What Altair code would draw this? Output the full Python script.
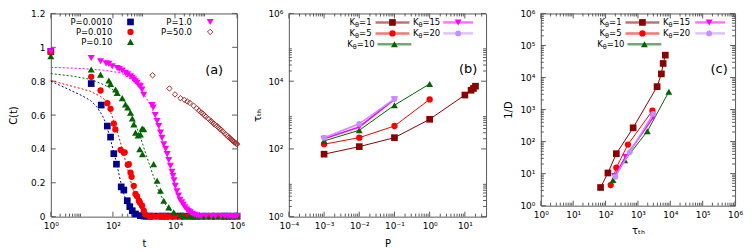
import altair as alt
import pandas as pd

FONT = "DejaVu Sans"
AXC = "#5a5a5a"
BLUE, RED, GREEN, MAG, BROWN = "#00008f", "#ff0000", "#006400", "#ff00ff", "#a52a2a"
DRED, LAV = "#8b0000", "#c38fff"

# ---------------- panel (a) data ----------------
A_LEGEND = ["P=0.0010", "P=0.010", "P=0.10", "P=1.0", "P=50.0"]

A1_T = [1, 20, 42, 66, 84, 107, 130, 185, 225, 290, 350, 420, 535, 770, 1000,
        1200, 1500, 2000, 3000, 4000, 5000, 7000, 10000, 15000, 20000, 30000, 40000, 50000,
        70000, 100000, 150000, 200000, 300000, 400000, 500000, 700000, 1000000]
A1_C = [0.976, 0.786, 0.659, 0.535, 0.47, 0.372, 0.31, 0.176, 0.157, 0.094, 0.059, 0.035, 0.016, 0.006, 0.003,
        0.003, 0.003, 0.003, 0.003, 0.003, 0.003, 0.003, 0.003, 0.003, 0.003, 0.003, 0.003, 0.003,
        0.003, 0.003, 0.003, 0.003, 0.003, 0.003, 0.003, 0.003, 0.003]

A2_T = [1, 20, 40, 66, 84, 107, 120, 177, 225, 240, 302, 325, 370, 400, 470, 535, 600, 690, 740, 870, 985, 1100,
        1500, 2000, 3000, 4000, 5000, 7000, 10000, 15000, 20000, 30000, 40000, 50000,
        70000, 100000, 150000, 200000, 300000, 400000, 500000, 700000, 1000000]
A2_C = [0.97, 0.826, 0.745, 0.67, 0.637, 0.549, 0.515, 0.394, 0.378, 0.38, 0.306, 0.31, 0.26, 0.235, 0.182, 0.134,
        0.12, 0.094, 0.084, 0.065, 0.035, 0.012,
        0.003, 0.003, 0.003, 0.003, 0.003, 0.003, 0.003, 0.003, 0.003, 0.003, 0.003, 0.003,
        0.003, 0.003, 0.003, 0.003, 0.003, 0.003, 0.003, 0.003, 0.003]

A3_T = [1, 20, 40, 74, 84, 122, 137, 200, 254, 300, 370, 420, 470, 535, 650, 770, 870, 985, 730, 900,
        2050, 2650, 3400, 4350, 6300, 9100, 14800,
        20000, 30000, 40000, 50000, 70000, 100000, 150000, 200000, 300000, 400000, 500000, 700000, 1000000]
A3_C = [0.947, 0.869, 0.839, 0.804, 0.784, 0.751, 0.731, 0.70, 0.663, 0.645, 0.614, 0.58, 0.545, 0.496, 0.48,
        0.486, 0.52, 0.516, 0.398, 0.369,
        0.31, 0.212, 0.153, 0.094, 0.055, 0.025, 0.01,
        0.003, 0.003, 0.003, 0.003, 0.003, 0.003, 0.003, 0.003, 0.003, 0.003, 0.003, 0.003, 0.003]

A4_T = [1, 20, 40, 60, 74, 95, 137, 160, 200, 254, 300, 370, 420, 470, 530, 600, 700, 770, 870, 985,
        1820, 2000, 2300, 2650, 3000, 3400, 3800, 4350, 5000, 5600, 6300, 7100, 8000, 8600, 9300,
        10200, 11500, 13000, 14500, 16500, 18500, 21000, 24000, 27000, 31000, 36000, 42000, 50000, 60000,
        70000, 100000, 150000, 200000, 300000, 400000, 500000, 600000, 700000, 800000, 900000, 1000000]
A4_C = [0.976, 0.937, 0.918, 0.905, 0.902, 0.888, 0.878, 0.872, 0.863, 0.849, 0.84, 0.829, 0.82, 0.81, 0.80,
        0.79, 0.775, 0.77, 0.75, 0.72,
        0.659, 0.645, 0.60, 0.565, 0.535, 0.496, 0.465, 0.428, 0.40, 0.369, 0.335, 0.30, 0.265, 0.241, 0.215,
        0.182, 0.15, 0.124, 0.10, 0.084, 0.07, 0.055, 0.042, 0.033, 0.025, 0.017, 0.011, 0.006, 0.004,
        0.003, 0.003, 0.003, 0.003, 0.003, 0.003, 0.003, 0.003, 0.003, 0.003, 0.003, 0.003]

A5_T = [1900, 6600, 10000, 15000, 20000, 25000, 30000, 40000, 50000, 60000, 70000, 80000, 90000, 100000,
        120000, 140000, 160000, 180000, 200000, 225000, 250000, 275000, 300000, 350000, 400000, 450000,
        500000, 550000, 600000, 650000, 700000, 750000, 800000, 850000, 900000, 950000, 1000000]
A5_C = [0.835, 0.757, 0.722, 0.70, 0.69, 0.68, 0.672, 0.655, 0.64, 0.626, 0.615, 0.607, 0.598, 0.59,
        0.578, 0.566, 0.558, 0.548, 0.541, 0.535, 0.527, 0.52, 0.513, 0.503, 0.492, 0.483,
        0.475, 0.468, 0.462, 0.457, 0.451, 0.446, 0.442, 0.438, 0.435, 0.431, 0.428]

# dashed fit curves
F1_T = [1, 3, 10, 19, 30, 45, 60, 80, 100, 130, 170, 220, 300, 400, 550, 800]
F1_C = [0.80, 0.76, 0.715, 0.686, 0.65, 0.60, 0.55, 0.47, 0.40, 0.32, 0.22, 0.14, 0.07, 0.03, 0.01, 0.0]
F2_T = [1, 3, 10, 19, 40, 58, 80, 100, 150, 200, 300, 400, 500, 700, 1000, 1500]
F2_C = [0.805, 0.78, 0.755, 0.74, 0.71, 0.686, 0.63, 0.58, 0.48, 0.40, 0.28, 0.19, 0.13, 0.06, 0.02, 0.0]
F3_T = [1, 5, 20, 50, 100, 200, 300, 500, 800, 1200, 2000, 3000, 5000, 8000, 12000]
F3_C = [0.845, 0.83, 0.81, 0.78, 0.75, 0.70, 0.65, 0.56, 0.46, 0.36, 0.24, 0.15, 0.07, 0.025, 0.005]
F4_T = [1, 10, 50, 177, 400, 800, 1500, 2500, 4000, 6000, 9000, 13000, 20000, 30000, 50000]
F4_C = [0.882, 0.875, 0.865, 0.849, 0.81, 0.75, 0.67, 0.58, 0.45, 0.34, 0.22, 0.12, 0.05, 0.015, 0.0]

# ---------------- panel (b)/(c) data ----------------
K_LEGEND = ["1", "5", "10", "15", "20"]
B_P = [[1e-3, 1e-2, 1e-1, 1, 10, 15, 17.5, 20],
       [1e-3, 1e-2, 1e-1, 1],
       [1e-3, 1e-2, 1e-1, 1],
       [1e-3, 1e-2, 1e-1],
       [1e-3, 1e-2, 1e-1]]
B_TAU = [[70, 117, 215, 750, 3900, 5400, 6100, 7100],
         [138, 215, 475, 2900],
         [172, 355, 1960, 8300],
         [200, 445, 2900],
         [215, 550, 3000]]
C_TAU = [[70, 118, 215, 710, 3900, 5300, 6000, 7000],
         [144, 215, 490, 2800],
         [170, 390, 1950, 9000],
         [190, 420, 2950],
         [200, 560, 2950]]
C_INVD = [[3.7, 10.5, 42, 270, 5200, 13000, 27500, 50000],
          [4.4, 15.5, 81, 920],
          [6.3, 26, 210, 3600],
          [8.5, 33, 570],
          [8.0, 47, 730]]

K_COLORS = [DRED, RED, GREEN, MAG, LAV]
K_SHAPES = ["square", "circle", "triangle-up", "triangle-down", "circle"]
K_SIZES = [45, 40, 48, 48, 34]
K_WIDTHS = [1, 1, 1, 1.6, 1.6]

# ---------------- geometry ----------------
A_X0, A_Y0, A_W, A_H = 50, 12, 187, 204
B_X0, B_W, B_H = 289, 198, 204
C_X0, C_W, C_H = 542, 195, 193
MAJ, MIN = 5, 3
TICKFS, LEGFS, TITFS = 9, 8.5, 10

SUPEXP = "abs(round(log(datum.value)/LN10))"
SUP = ("'10' + (round(log(datum.value)/LN10) < 0 ? '⁻' : '') + "
       "substring('⁰¹²³⁴⁵⁶⁷⁸⁹', " + SUPEXP + ", " + SUPEXP + " + 1)")

WID = {'=': 0.838, 'K': 0.656, 'θ': 0.602, '.': 0.318, 'P': 0.603}


def tw(s, size):
    return sum(WID.get(ch, 0.636) for ch in s) * size


def dummy():
    return pd.DataFrame({'k': [0]})


def txt(label, x, y, size=LEGFS, align='right'):
    return alt.Chart(dummy()).mark_text(align=align, baseline='middle', font=FONT, fontSize=size,
                                        color='black').encode(
        x=alt.value(x), y=alt.value(y), text=alt.value(label))


def sym(x, y, shape, color, size, filled=True):
    return alt.Chart(dummy()).mark_point(shape=shape, filled=filled, size=size, color=color, opacity=1,
                                         strokeWidth=1).encode(x=alt.value(x), y=alt.value(y))


def seg(x1, x2, y, color):
    return alt.Chart(dummy()).mark_rule(color=color, strokeWidth=2.5, opacity=0.55).encode(
        x=alt.value(x1), x2=alt.value(x2), y=alt.value(y))


def tick_layers(X, Y, W, H, xmaj, xmin, ymaj, ymin):
    out = []
    for vals, L in ((xmaj, MAJ), (xmin, MIN)):
        df = pd.DataFrame({'v': vals})
        out.append(alt.Chart(df).mark_rule(color=AXC, strokeWidth=1).encode(
            x=X('v'), y=alt.value(H), y2=alt.value(H - L)))
        out.append(alt.Chart(df).mark_rule(color=AXC, strokeWidth=1).encode(
            x=X('v'), y=alt.value(0), y2=alt.value(L)))
    for vals, L in ((ymaj, MAJ), (ymin, MIN)):
        if not vals:
            continue
        df = pd.DataFrame({'v': vals})
        out.append(alt.Chart(df).mark_rule(color=AXC, strokeWidth=1).encode(
            y=Y('v'), x=alt.value(0), x2=alt.value(L)))
        out.append(alt.Chart(df).mark_rule(color=AXC, strokeWidth=1).encode(
            y=Y('v'), x=alt.value(W), x2=alt.value(W - L)))
    return out


def logminor(lo_exp, hi_exp, lo, hi, mults=range(2, 10)):
    vals = []
    for e in range(lo_exp, hi_exp + 1):
        for m in mults:
            v = m * 10.0 ** e
            if lo < v < hi:
                vals.append(v)
    return vals


# ---------------- panel (a) ----------------
xs_a = alt.Scale(type='log', domain=[1, 1e6], nice=False)
ys_a = alt.Scale(domain=[0, 1.2], nice=False, zero=False)
xax_a = alt.Axis(values=[1, 100, 1e4, 1e6], labelExpr=SUP, title='t', labelFlush=False,
                 labelPadding=5, titlePadding=8)
yax_a = alt.Axis(values=[0, 0.2, 0.4, 0.6, 0.8, 1.0, 1.2], format='~g', title='C(t)',
                 labelPadding=6, titlePadding=12)
XA = lambda f: alt.X(f, type='quantitative', scale=xs_a, axis=xax_a)
YA = lambda f: alt.Y(f, type='quantitative', scale=ys_a, axis=yax_a)

a_minor = [m * 10.0 ** e for e in (0, 2, 4) for m in range(1, 10)][1:]
a_minor = [v for v in a_minor if v not in (100, 1e4)]
a_layers = tick_layers(XA, YA, A_W, A_H, [1, 100, 1e4, 1e6], a_minor,
                       [0, 0.2, 0.4, 0.6, 0.8, 1.0, 1.2], [])

for ft, fc, col in ((F1_T, F1_C, BLUE), (F2_T, F2_C, RED), (F3_T, F3_C, GREEN), (F4_T, F4_C, MAG)):
    a_layers.append(alt.Chart(pd.DataFrame({'t': ft, 'c': fc})).mark_line(
        color=col, strokeWidth=1, strokeDash=[2, 2]).encode(x=XA('t'), y=YA('c')))

A_SER = [(A1_T, A1_C, BLUE, 'square', 45, True),
         (A2_T, A2_C, RED, 'circle', 40, True),
         (A3_T, A3_C, GREEN, 'triangle-up', 50, True),
         (A4_T, A4_C, MAG, 'triangle-down', 50, True),
         (A5_T, A5_C, BROWN, 'diamond', 30, False)]
for t, c, col, shp, sz, fil in A_SER:
    a_layers.append(alt.Chart(pd.DataFrame({'t': t, 'c': c})).mark_point(
        shape=shp, filled=fil, size=sz, color=col, opacity=1, strokeWidth=1).encode(x=XA('t'), y=YA('c')))

a_leg_pos = [(61.7, 80, 8.5), (61.7, 80, 18.5), (61.7, 80, 28.5), (141.7, 160, 8.5), (141.7, 160, 18.5)]
for (xr, xm, y), lab, (_, _, col, shp, sz, fil) in zip(a_leg_pos, A_LEGEND, A_SER):
    a_layers.append(txt(lab, xr, y))
    a_layers.append(sym(xm, y, shp, col, sz, fil))
a_layers.append(txt('(a)', 214 - A_X0, 69 - A_Y0, 13, 'center'))
chart_a = alt.layer(*a_layers).properties(width=A_W, height=A_H)


# ---------------- panel (b) ----------------
def k_legend(x0, y0, rows):
    out = []
    for i, (xr, x1, x2, xm, y) in enumerate(rows):
        rest = '=' + K_LEGEND[i]
        wr = tw(rest, LEGFS)
        xr_l, x1_l, x2_l, xm_l, y_l = xr - x0, x1 - x0, x2 - x0, xm - x0, y - y0
        out.append(txt(rest, xr_l, y_l))
        out.append(txt('θ', xr_l - wr, y_l + 2.5, 6.5))
        out.append(txt('K', xr_l - wr - tw('θ', 6.5), y_l))
        out.append(seg(x1_l, x2_l, y_l, K_COLORS[i]))
        out.append(sym(xm_l, y_l, K_SHAPES[i], K_COLORS[i], K_SIZES[i]))
    return out


xs_b = alt.Scale(type='log', domain=[1e-4, 40], nice=False)
ys_b = alt.Scale(type='log', domain=[1, 1e6], nice=False)
xax_b = alt.Axis(values=[1e-4, 1e-3, 1e-2, 1e-1, 1, 10], labelExpr=SUP, title='P', labelFlush=False,
                 labelPadding=5, titlePadding=8)
yax_b = alt.Axis(values=[1, 100, 1e4, 1e6], labelExpr=SUP, title='τₜₕ', labelPadding=6, titlePadding=5)
XB = lambda f: alt.X(f, type='quantitative', scale=xs_b, axis=xax_b)
YB = lambda f: alt.Y(f, type='quantitative', scale=ys_b, axis=yax_b)

b_layers = tick_layers(XB, YB, B_W, B_H, [1e-4, 1e-3, 1e-2, 1e-1, 1, 10], logminor(-4, 1, 1e-4, 40),
                       [1, 100, 1e4, 1e6],
                       [v for v in [m * 10.0 ** e for e in (0, 2, 4) for m in range(1, 10)] if v not in (1, 100, 1e4)])
for i in range(5):
    df = pd.DataFrame({'p': B_P[i], 'tau': B_TAU[i]})
    b_layers.append(alt.Chart(df).mark_line(color=K_COLORS[i], strokeWidth=K_WIDTHS[i]).encode(
        x=XB('p'), y=YB('tau')))
    b_layers.append(alt.Chart(df).mark_point(shape=K_SHAPES[i], filled=True, size=K_SIZES[i],
                                             color=K_COLORS[i], opacity=1).encode(x=XB('p'), y=YB('tau')))
b_rows = [(372, 376, 410, 393, 21), (372, 376, 410, 393, 32), (375, 378, 412, 395, 43),
          (441, 444, 474, 459, 21), (441, 444, 474, 459, 32)]
b_layers += k_legend(B_X0, A_Y0, b_rows)
b_layers.append(txt('(b)', 469 - B_X0, 68 - A_Y0, 13, 'center'))
chart_b = alt.layer(*b_layers).properties(width=B_W, height=B_H)

# ---------------- panel (c) ----------------
xs_c = alt.Scale(type='log', domain=[1, 1e6], nice=False)
ys_c = alt.Scale(type='log', domain=[1, 1e6], nice=False)
dec = [1, 10, 100, 1e3, 1e4, 1e5, 1e6]
xax_c = alt.Axis(values=dec, labelExpr=SUP, title='τₜₕ', labelFlush=False, labelPadding=5, titlePadding=6)
yax_c = alt.Axis(values=dec, labelExpr=SUP, title='1/D', labelPadding=6, titlePadding=6)
XC = lambda f: alt.X(f, type='quantitative', scale=xs_c, axis=xax_c)
YC = lambda f: alt.Y(f, type='quantitative', scale=ys_c, axis=yax_c)
c_minor = logminor(0, 5, 1, 1e6)
c_layers = tick_layers(XC, YC, C_W, C_H, dec, c_minor, dec, c_minor)
for i in range(5):
    df = pd.DataFrame({'tau': C_TAU[i], 'invd': C_INVD[i]})
    c_layers.append(alt.Chart(df).mark_line(color=K_COLORS[i], strokeWidth=K_WIDTHS[i]).encode(
        x=XC('tau'), y=YC('invd')))
    c_layers.append(alt.Chart(df).mark_point(shape=K_SHAPES[i], filled=True, size=K_SIZES[i],
                                             color=K_COLORS[i], opacity=1).encode(x=XC('tau'), y=YC('invd')))
c_rows = [(623, 627, 661, 644, 21), (623, 627, 661, 644, 32), (626, 629, 663, 646, 43),
          (692, 697, 727, 711, 21), (692, 697, 727, 711, 32)]
c_layers += k_legend(C_X0, A_Y0, c_rows)
c_layers.append(txt('(c)', 721 - C_X0, 68 - A_Y0, 13, 'center'))
chart_c = alt.layer(*c_layers).properties(width=C_W, height=C_H)


def spacer(w):
    return alt.Chart(dummy()).mark_point(opacity=0).encode(
        x=alt.X('k:Q', axis=None), y=alt.Y('k:Q', axis=None)).properties(
        width=w, height=10, view=alt.ViewBackground(stroke='transparent'))


chart = alt.hconcat(chart_a, spacer(B_X0 - (A_X0 + A_W)), chart_b, spacer(C_X0 - (B_X0 + B_W)), chart_c,
                    spacing=0, bounds='flush').properties(
    padding={'left': 0, 'top': 0, 'right': 4, 'bottom': 0}
).configure_view(stroke=AXC, strokeWidth=1).configure_axis(
    labelFont=FONT, labelFontSize=TICKFS, titleFont=FONT, titleFontSize=TITFS, titleFontWeight='normal',
    labelColor='black', titleColor='black', grid=False, ticks=False, tickSize=0, domain=False,
    labelOverlap=False
)

chart.save("out.html", embed_options={"renderer": "svg", "actions": False})
